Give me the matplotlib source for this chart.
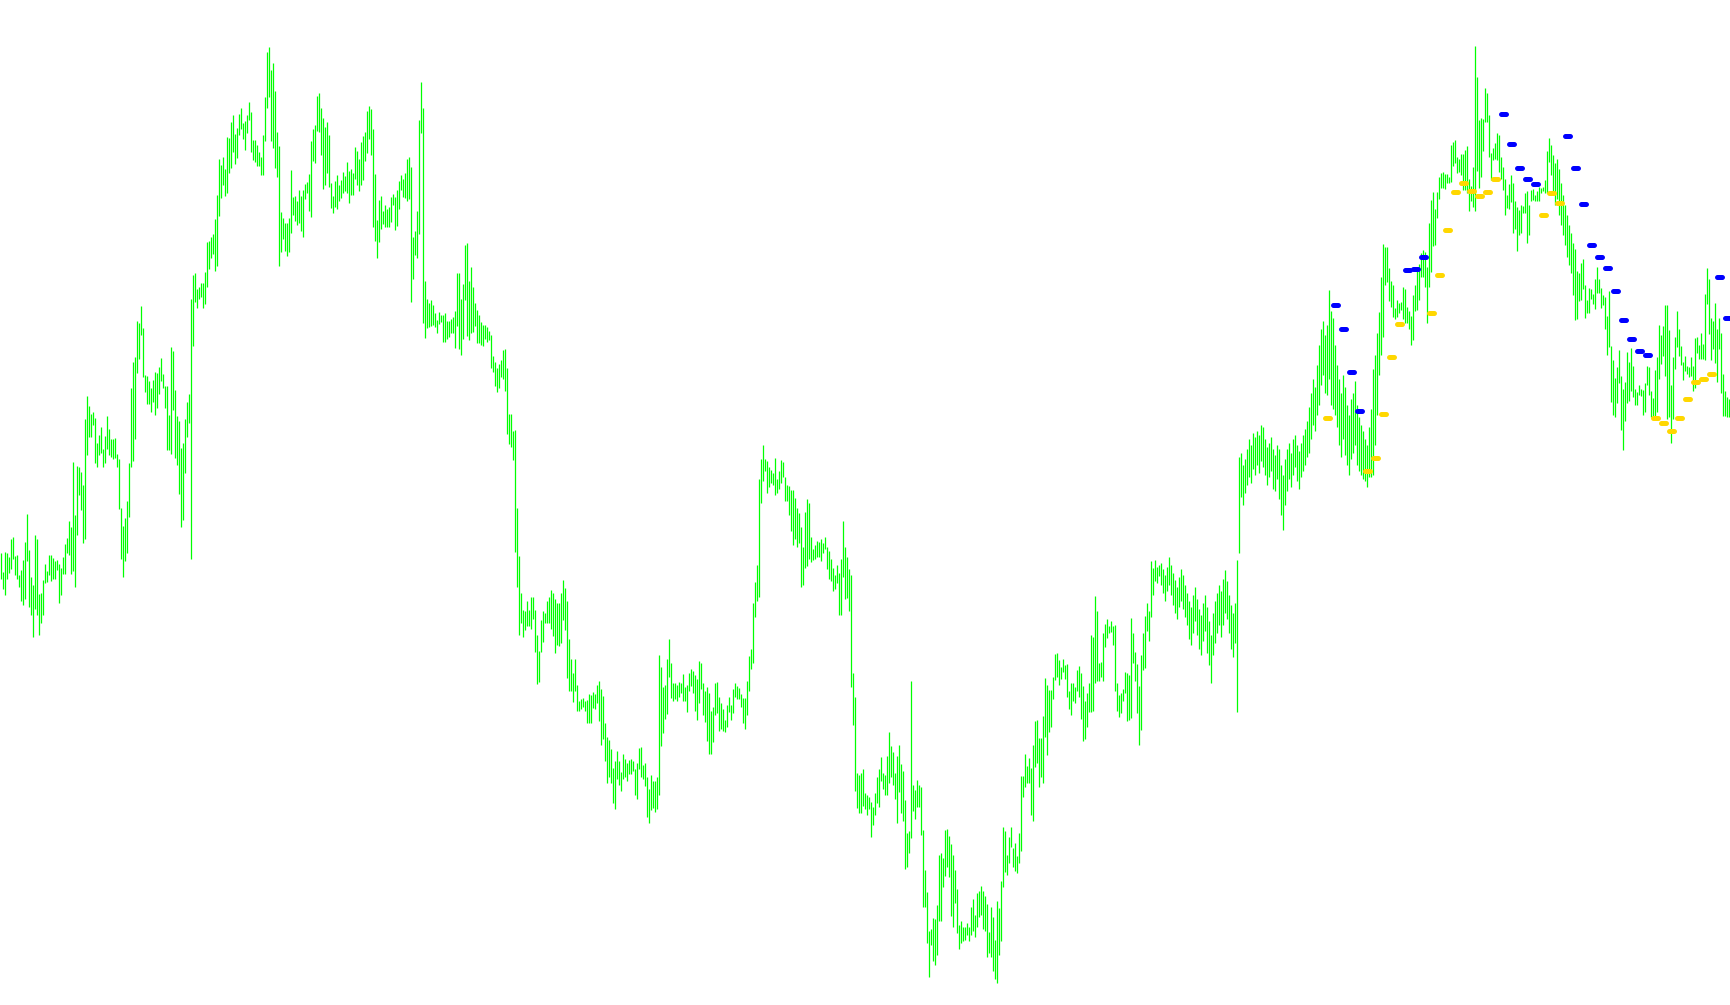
import matplotlib
matplotlib.use("agg")
import matplotlib.pyplot as plt
import numpy as np

# bar highs / lows (points), one bar every 2 px, oldest first
highs = [
    452, 433, 453, 452, 448, 466, 468, 449, 450, 430, 435, 445, 463, 491, 455, 428, 420, 470, 466, 411,
    412, 425, 441, 434, 450, 450, 447, 444, 445, 441, 437, 448, 461, 467, 484, 478, 543, 490, 539, 538,
    533, 520, 586, 609, 599, 591, 593, 587, 562, 570, 578, 556, 569, 589, 576, 566, 566, 567, 551, 546,
    497, 479, 487, 504, 542, 617, 643, 648, 684, 682, 699, 677,
    630, 629, 624, 617, 625, 633, 632, 638, 647, 631, 619, 619, 590, 658, 654, 615, 589, 584, 557, 562,
    586, 603, 611, 706, 730, 732, 716, 718, 722, 722, 733, 763, 764, 768, 771, 786, 810, 846, 840, 848,
    836, 868, 867, 883, 890, 871, 877, 891, 897, 882, 884, 890, 903, 893, 865, 865, 860, 853, 848, 870,
    908, 953, 958, 935, 942, 914, 873, 859, 793, 787, 782, 782, 787,
    835, 808, 809, 804, 815, 809, 815, 821, 823, 831, 864, 876, 880, 909, 912, 897, 887, 878, 883, 870,
    822, 809, 824, 830, 820, 825, 833, 829, 843, 834, 836, 832, 858, 854, 846, 863, 869, 873, 894, 899,
    896, 876, 831, 785, 805, 809, 794, 800, 796, 798, 808, 811, 808, 815, 824, 830, 826, 832, 846, 848,
    838, 768, 774, 794, 885, 923, 897, 724, 706, 702, 705, 700,
    692, 685, 693, 690, 690, 692, 684, 684, 686, 688, 694, 732, 732, 706, 721, 760, 762, 724, 738, 718,
    702, 695, 690, 683, 680, 680, 678, 674, 670, 649, 643, 637, 641, 645, 655, 656, 637, 591, 591, 574,
    575, 497, 449, 412, 395, 394, 404, 395, 408, 408, 395, 370, 354, 385, 394, 392, 404, 408, 415, 412,
    406, 402, 402, 412, 425, 417, 404, 366, 346, 332, 346, 320, 304,
    306, 307, 304, 305, 311, 310, 313, 311, 320, 324, 316, 309, 282, 268, 265, 256, 237, 244, 254, 244,
    233, 251, 246, 242, 245, 246, 244, 236, 242, 257, 258, 240, 242, 228, 216, 230, 224, 224, 228, 350,
    338, 318, 320, 346, 366, 342, 322, 322, 320, 323, 322, 331, 318, 320, 332, 336, 334, 330, 326, 344,
    342, 322, 314, 318, 312, 294, 298, 322, 323, 308, 302, 296,
    285, 300, 308, 300, 316, 322, 319, 317, 311, 307, 307, 324, 349, 356, 402, 423, 440, 526, 546, 560,
    546, 544, 538, 535, 532, 547, 526, 534, 545, 543, 528, 520, 519, 515, 515, 507, 497, 492, 478, 458,
    493, 506, 502, 468, 456, 460, 464, 463, 466, 462, 468, 458, 454, 446, 437, 430, 440, 432, 446, 484,
    458, 448, 436, 430, 332, 308, 232, 230, 232, 236, 212, 210, 208,
    203, 198, 212, 228, 236, 248, 232, 230, 249, 273, 259, 253, 232, 249, 260, 241, 234, 205, 172, 174,
    324, 220, 215, 225, 220, 218, 175, 135, 113, 74, 76, 87, 86, 100, 150, 152, 147, 175, 176, 169,
    161, 150, 135, 116, 80, 84, 78, 78, 82, 78, 98, 106, 90, 112, 114, 119, 114, 109, 101, 73,
    98, 88, 65, 104, 97, 124, 178, 174, 150, 168, 178, 157,
    162, 149, 172, 229, 229, 251, 239, 247, 237, 260, 284, 285, 267, 267, 289, 327, 320, 315, 315, 328,
    351, 352, 345, 338, 346, 340, 341, 314, 322, 322, 318, 335, 339, 332, 319, 304, 312, 322, 370, 368,
    409, 394, 342, 343, 372, 381, 386, 379, 384, 379, 380, 322, 310, 312, 316, 333, 332, 330, 387, 372,
    353, 341, 319, 350, 372, 389, 402, 394, 444, 437, 445, 438, 440,
    442, 436, 430, 438, 448, 440, 432, 425, 418, 428, 436, 430, 420,
    412, 404, 398, 410, 418, 406, 396, 390, 402, 410, 398, 384, 370,
    392, 404, 412, 420, 414, 426, 435, 424, 410, 400, 392, 402, 445,
    548, 552, 540, 546, 556, 566, 560, 572, 568, 574, 570, 580, 578,
    566, 558, 562, 568, 556, 550, 560, 556, 540, 530,
    546, 556, 562, 552, 566, 570, 560, 554, 562, 570, 576, 584,
    598, 612, 626, 618, 640, 660, 676, 684, 670, 680, 715, 694, 687,
    660, 640, 626, 612, 630, 618, 600, 590, 606, 612, 624, 600, 588, 580, 574, 566, 560, 578, 596, 636,
    650, 672, 693, 728, 761,
    758, 758, 737, 724, 720, 697, 705, 702, 703, 718, 716, 698, 694, 689, 710, 720, 738, 741, 752, 755,
    753, 738, 782, 805, 813, 796, 813, 828, 832, 833, 831, 831, 828, 860, 863, 865, 848, 846, 851, 851,
    855, 859, 826, 819, 838, 959, 928,
    885, 887, 886, 917, 912, 890, 852, 857, 862, 872, 870, 848, 838, 826, 810, 821, 830, 822, 804, 798,
    795, 800, 799, 812, 814, 800, 815, 816, 810, 814, 818, 817, 818, 825, 854, 867,
    860, 850, 842, 846, 836, 822, 810, 800, 790, 780, 772, 762, 756,
    734, 732, 742, 746, 720, 705, 717, 716, 711, 726, 738, 726, 717, 710, 708, 689, 714, 659, 645, 627,
    638, 655, 629, 616, 623, 653, 643, 657, 639, 616, 613, 620, 616, 615, 622, 639, 638, 614, 607, 635,
    648, 680, 670, 679, 700, 700, 675, 620, 648, 668, 694, 676, 659, 643, 649, 639, 638, 648, 639, 667,
    668, 660, 672, 661, 711, 737, 726, 687, 684, 702, 676, 687, 672, 631, 614, 608, 606,
]
lows = [
    426, 416, 410, 426, 432, 436, 446, 430, 426, 418, 404, 400, 406, 444, 398, 390, 368, 396, 390, 370,
    382, 390, 422, 423, 430, 424, 426, 426, 435, 402, 410, 431, 431, 452, 450, 431, 434, 418, 470, 510,
    495, 462, 466, 550, 568, 568, 580, 542, 538, 550, 552, 538, 542, 556, 550, 548, 546, 547, 538, 496,
    446, 428, 444, 452, 488, 538, 544, 566, 632, 646, 670, 628,
    613, 601, 601, 593, 603, 590, 597, 611, 624, 617, 597, 555, 555, 551, 595, 547, 540, 511, 478, 485,
    532, 568, 582, 446, 659, 703, 697, 706, 708, 697, 701, 718, 736, 747, 751, 734, 739, 789, 807, 820,
    809, 812, 832, 837, 853, 841, 847, 870, 876, 866, 855, 872, 885, 853, 845, 843, 839, 839, 830, 830,
    864, 897, 908, 864, 857, 837, 828, 739, 753, 766, 754, 749, 753,
    772, 790, 784, 780, 782, 774, 768, 806, 812, 794, 788, 844, 842, 874, 873, 850, 816, 820, 832, 818,
    797, 792, 798, 796, 804, 807, 812, 814, 812, 802, 810, 810, 826, 820, 814, 820, 825, 844, 852, 866,
    850, 778, 764, 747, 763, 776, 781, 778, 778, 778, 783, 800, 775, 779, 796, 815, 808, 807, 804, 806,
    703, 726, 750, 747, 771, 872, 682, 667, 677, 678, 679, 680,
    678, 672, 681, 683, 663, 663, 666, 668, 672, 672, 657, 679, 656, 650, 666, 705, 669, 665, 672, 673,
    679, 662, 662, 660, 659, 666, 663, 665, 637, 633, 619, 613, 617, 628, 626, 614, 571, 561, 558, 545,
    453, 418, 370, 382, 368, 375, 379, 379, 376, 386, 353, 321, 323, 353, 363, 382, 382, 382, 376, 369,
    352, 360, 359, 362, 385, 375, 327, 314, 314, 303, 314, 294, 294,
    296, 298, 294, 282, 282, 282, 297, 296, 302, 284, 260, 266, 244, 222, 228, 222, 202, 196, 226, 220,
    214, 226, 228, 224, 231, 231, 234, 210, 206, 236, 228, 226, 219, 188, 182, 195, 197, 193, 196, 210,
    259, 272, 286, 291, 328, 307, 304, 306, 304, 308, 312, 304, 304, 293, 314, 319, 312, 294, 285, 302,
    316, 290, 283, 264, 251, 251, 263, 290, 292, 274, 276, 274,
    273, 278, 293, 285, 292, 308, 306, 306, 298, 282, 276, 290, 314, 336, 342, 388, 404, 408, 502, 524,
    534, 512, 518, 522, 520, 510, 512, 516, 522, 528, 504, 504, 490, 474, 460, 466, 458, 462, 418, 420,
    437, 439, 446, 443, 445, 446, 448, 448, 444, 452, 456, 436, 426, 424, 414, 416, 422, 390, 390, 428,
    406, 407, 394, 318, 280, 214, 197, 192, 192, 199, 196, 190, 196,
    168, 180, 190, 202, 198, 224, 216, 210, 210, 222, 228, 220, 206, 182, 213, 192, 184, 136, 138, 152,
    167, 194, 186, 198, 198, 170, 98, 98, 62, 28, 60, 44, 40, 50, 84, 84, 118, 129, 138, 128,
    89, 78, 102, 72, 56, 62, 64, 65, 70, 64, 70, 74, 68, 78, 88, 90, 76, 74, 48, 52,
    48, 34, 26, 22, 50, 64, 118, 133, 130, 142, 158, 138,
    134, 132, 142, 154, 208, 218, 222, 222, 190, 184, 238, 242, 218, 228, 222, 268, 250, 273, 278, 306,
    325, 328, 320, 326, 333, 326, 308, 296, 290, 304, 302, 314, 308, 286, 264, 266, 278, 293, 293, 294,
    322, 324, 324, 328, 324, 358, 367, 372, 373, 360, 314, 294, 288, 292, 304, 312, 284, 285, 287, 342,
    324, 292, 260, 275, 335, 337, 374, 364, 388, 410, 424, 422, 429,
    420, 412, 404, 414, 420, 410, 400, 392, 386, 398, 404, 396, 388,
    380, 366, 360, 372, 384, 370, 356, 350, 364, 374, 352, 340, 322,
    350, 362, 372, 380, 368, 380, 392, 386, 372, 356, 348, 362, 293,
    452, 508, 500, 512, 520, 528, 522, 536, 530, 540, 532, 544, 538,
    530, 520, 528, 534, 516, 514, 526, 506, 490, 475,
    500, 514, 526, 518, 530, 538, 524, 516, 528, 534, 540, 548,
    552, 566, 580, 574, 590, 600, 620, 630, 612, 610, 626, 600, 596,
    590, 578, 560, 548, 566, 550, 540, 530, 546, 552, 560, 540, 534, 530, 526, 524, 518, 528, 528, 530,
    560, 590, 630, 650, 668,
    720, 723, 704, 698, 688, 686, 688, 692, 695, 686, 682, 682, 676, 660, 665, 694, 695, 705, 728, 728,
    718, 682, 718, 733, 759, 760, 787, 806, 817, 817, 816, 822, 822, 823, 839, 842, 832, 833, 830, 815,
    815, 812, 794, 804, 798, 794, 834,
    817, 828, 854, 883, 883, 848, 825, 845, 846, 845, 833, 826, 815, 790, 797, 796, 803, 772, 776, 754,
    770, 772, 792, 792, 762, 770, 804, 805, 804, 804, 804, 812, 814, 812, 812, 843,
    830, 812, 800, 806, 790, 780, 770, 760, 748, 740, 732, 710, 685,
    686, 704, 705, 716, 687, 692, 692, 706, 701, 696, 712, 712, 697, 700, 676, 650, 658, 603, 590, 588,
    602, 622, 575, 555, 584, 602, 604, 614, 608, 600, 600, 610, 609, 590, 593, 620, 610, 588, 588, 589,
    593, 626, 641, 649, 629, 586, 588, 562, 586, 636, 658, 649, 640, 625, 634, 631, 628, 629, 614, 617,
    652, 646, 646, 646, 645, 701, 671, 645, 656, 642, 623, 656, 612, 589, 589, 588, 588,
]

# signal dashes (every 4th bar from bar 663)
blue_bars = [667, 671, 675, 679, 703, 707, 711, 751, 755, 759, 763, 767,
             783, 787, 791, 795, 799, 803, 807, 811, 815, 819, 823, 859, 863]
blue_vals = [700, 676, 633, 594, 735, 736, 748, 891, 861, 837, 826, 821,
             869, 837, 801, 760, 748, 737, 714, 685, 666, 654, 650, 728, 687]
yellow_bars = [663, 683, 687, 691, 695, 699, 715, 719, 723, 727, 731, 735, 739, 743,
               747, 771, 775, 779, 827, 831, 835, 839, 843, 847, 851, 855]
yellow_vals = [587, 534, 547, 591, 648, 681, 692, 730, 775, 813, 822, 814, 809, 813,
               826, 790, 812, 802, 587, 582, 574, 587, 606, 623, 626, 631]

fig = plt.figure(figsize=(17.3, 10.05), dpi=100)
ax = fig.add_axes([0, 0, 1, 1])
idx = np.arange(len(highs))
ax.vlines(idx, lows, highs, colors='#00ff00', linewidth=0.9)

for b, v in zip(yellow_bars, yellow_vals):
    ax.plot([b - 1.2, b + 1.2], [v, v], color='#ffd700', lw=3.6, solid_capstyle='round')
for b, v in zip(blue_bars, blue_vals):
    ax.plot([b - 1.2, b + 1.2], [v, v], color='#0000ff', lw=3.6, solid_capstyle='round')

ax.set_xlim(-0.67, len(highs) - 0.67)
ax.set_ylim(0, 1005)
ax.axis('off')
fig.savefig('out.png', dpi=100, facecolor='white')
plt.close(fig)
